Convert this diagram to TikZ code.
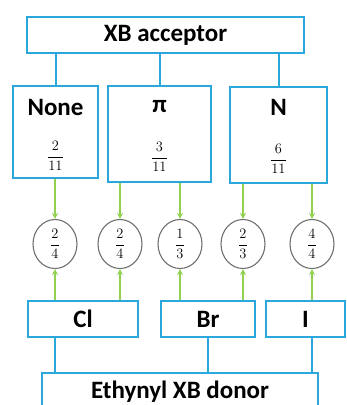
\documentclass[tikz,border=0pt]{standalone}
\usepackage{fontspec}
\usepackage{amsmath}
\setsansfont{Carlito}
\usetikzlibrary{arrows.meta,shapes.geometric}
\definecolor{boxblue}{HTML}{2AA8DC}
\definecolor{linkgreen}{HTML}{92D050}
\definecolor{ringgray}{HTML}{707070}

\begin{document}
\begin{tikzpicture}[x=1pt,y=-1pt,
  bluebox/.style={draw=boxblue,line width=2pt,fill=white,inner sep=0pt},
  head/.style={font=\sffamily\bfseries\fontsize{25}{29}\selectfont,inner sep=0pt},
  boxfrac/.style={font=\fontsize{15}{18}\selectfont,inner sep=0pt},
  ring/.style={ellipse,draw=ringgray,line width=1.1pt,minimum width=44pt,minimum height=49pt,inner sep=0pt,font=\fontsize{15}{18}\selectfont},
  treeline/.style={draw=boxblue,line width=2pt},
  feed/.style={draw=linkgreen,line width=1.6pt,-{Stealth[length=6pt,width=6pt]}}]

\useasboundingbox (0,0) rectangle (346,405);

% acceptor side
\node[bluebox,minimum width=277pt,minimum height=36pt] (acc) at (165.5,35) {};
\node[head] (acct) at (165.5,35) {XB acceptor};

\node[bluebox,minimum width=85pt,minimum height=92pt] (none) at (55.5,132) {};
\node[bluebox,minimum width=103pt,minimum height=96pt] (pi) at (159.5,134) {};
\node[bluebox,minimum width=97pt,minimum height=96pt] (nn) at (278.5,135) {};

\node[head] (nonet) at (55.5,107) {None};
\node[head] (pit) at (159.5,107) {π};
\node[head] (nnt) at (278.5,107) {N};
\node[boxfrac] (nonef) at (55.5,156) {$\dfrac{2}{11}$};
\node[boxfrac] (pif) at (159.5,157) {$\dfrac{3}{11}$};
\node[boxfrac] (nnf) at (278.5,159) {$\dfrac{6}{11}$};

% ratio rings
\node[ring] (c1) at (55,244) {$\dfrac{2}{4}$};
\node[ring] (c2) at (120,244) {$\dfrac{2}{4}$};
\node[ring] (c3) at (180,244) {$\dfrac{1}{3}$};
\node[ring] (c4) at (243,244) {$\dfrac{2}{3}$};
\node[ring] (c5) at (312,244) {$\dfrac{4}{4}$};

% donor side
\node[bluebox,minimum width=110pt,minimum height=36pt] (cl) at (83,319) {};
\node[bluebox,minimum width=94pt,minimum height=36pt] (br) at (208,319) {};
\node[bluebox,minimum width=79pt,minimum height=36pt] (io) at (305.5,319) {};
\node[head] (clt) at (83,319) {Cl};
\node[head] (brt) at (208,319) {Br};
\node[head] (iot) at (305.5,319) {I};

\node[bluebox,minimum width=276pt,minimum height=39pt] (don) at (180,392.5) {};
\node[head] (dont) at (180,392) {Ethynyl XB donor};

% tree lines
\draw[treeline] (none.north |- acc.south) -- (none.north);
\draw[treeline] (pi.north |- acc.south) -- (pi.north);
\draw[treeline] (nn.north |- acc.south) -- (nn.north);
\draw[treeline] (c1 |- cl.south) -- (c1 |- don.north);
\draw[treeline] (br.south) -- (br.south |- don.north);
\draw[treeline] (c5 |- io.south) -- (c5 |- don.north);

% green feeds into the rings
\draw[feed] (c1 |- none.south) -- (c1.north);
\draw[feed] (c2 |- pi.south) -- (c2.north);
\draw[feed] (c3 |- pi.south) -- (c3.north);
\draw[feed] (c4 |- nn.south) -- (c4.north);
\draw[feed] (c5 |- nn.south) -- (c5.north);
\draw[feed] (c1 |- cl.north) -- (c1.south);
\draw[feed] (c2 |- cl.north) -- (c2.south);
\draw[feed] (c3 |- br.north) -- (c3.south);
\draw[feed] (c4 |- br.north) -- (c4.south);
\draw[feed] (c5 |- io.north) -- (c5.south);
\end{tikzpicture}
\end{document}
